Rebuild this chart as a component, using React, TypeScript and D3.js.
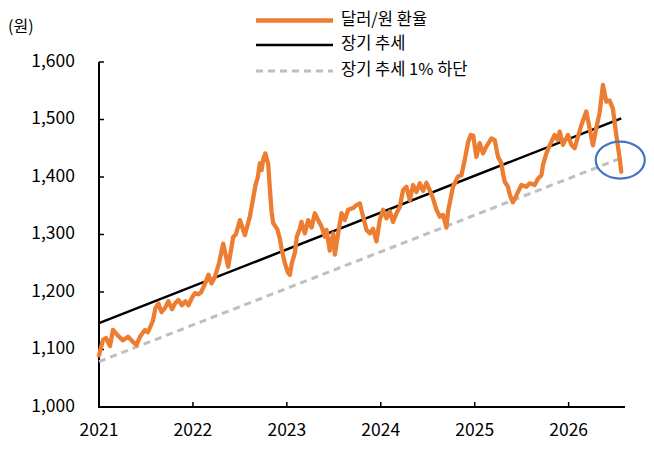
import React from "react";
import * as d3 from "d3";

// decimal-year positions and values
const fxYear = [
  2021.0, 2021.043, 2021.074, 2021.117, 2021.149, 2021.202, 2021.255, 2021.309, 2021.362, 2021.399,
  2021.436, 2021.489, 2021.521, 2021.574, 2021.601, 2021.633, 2021.665, 2021.702, 2021.739, 2021.777,
  2021.809, 2021.846, 2021.883, 2021.92, 2021.952, 2021.989, 2022.021, 2022.059, 2022.085, 2022.128,
  2022.165, 2022.197, 2022.234, 2022.277, 2022.322, 2022.376, 2022.429, 2022.457, 2022.5, 2022.553,
  2022.606, 2022.638, 2022.665, 2022.691, 2022.713, 2022.731, 2022.75, 2022.771, 2022.801, 2022.819,
  2022.837, 2022.854, 2022.899, 2022.926, 2022.944, 2022.979, 2023.011, 2023.032, 2023.053, 2023.085,
  2023.106, 2023.138, 2023.156, 2023.191, 2023.227, 2023.263, 2023.298, 2023.333, 2023.369, 2023.404,
  2023.422, 2023.457, 2023.493, 2023.511, 2023.546, 2023.582, 2023.617, 2023.652, 2023.705, 2023.741,
  2023.777, 2023.812, 2023.848, 2023.883, 2023.918, 2023.954, 2023.989, 2024.024, 2024.061, 2024.096,
  2024.131, 2024.167, 2024.202, 2024.237, 2024.273, 2024.309, 2024.344, 2024.38, 2024.415, 2024.45,
  2024.486, 2024.521, 2024.556, 2024.593, 2024.628, 2024.663, 2024.699, 2024.716, 2024.769, 2024.822,
  2024.859, 2024.894, 2024.929, 2024.957, 2024.984, 2025.018, 2025.053, 2025.088, 2025.124, 2025.178,
  2025.213, 2025.248, 2025.284, 2025.301, 2025.319, 2025.354, 2025.372, 2025.39, 2025.407, 2025.426,
  2025.461, 2025.497, 2025.55, 2025.585, 2025.638, 2025.673, 2025.71, 2025.727, 2025.763, 2025.798,
  2025.851, 2025.886, 2025.904, 2025.939, 2025.993, 2026.029, 2026.064, 2026.099, 2026.135, 2026.188,
  2026.223, 2026.259, 2026.294, 2026.33, 2026.365, 2026.401, 2026.436, 2026.471, 2026.507, 2026.543,
  2026.56,
];
const fxValue = [
  1090, 1117, 1120, 1106, 1134, 1124, 1116, 1122, 1113, 1108,
  1122, 1134, 1130, 1150, 1172, 1180, 1165, 1172, 1184, 1170,
  1180, 1186, 1177, 1184, 1177, 1190, 1198, 1196, 1199, 1214,
  1230, 1215, 1226, 1250, 1284, 1244, 1296, 1300, 1325, 1299,
  1331, 1360, 1385, 1400, 1424, 1412, 1432, 1441, 1423, 1380,
  1340, 1320, 1309, 1292, 1275, 1250, 1234, 1230, 1250, 1268,
  1296, 1310, 1322, 1302, 1325, 1312, 1337, 1325, 1314, 1296,
  1308, 1272, 1302, 1265, 1302, 1337, 1325, 1343, 1346, 1351,
  1354, 1331, 1308, 1302, 1310, 1288, 1325, 1343, 1328, 1340,
  1322, 1337, 1348, 1377, 1383, 1360, 1386, 1374, 1389, 1376,
  1390, 1377, 1363, 1343, 1331, 1334, 1312, 1340, 1383, 1401,
  1403, 1430, 1460, 1473, 1472, 1435, 1459, 1441, 1453, 1467,
  1464, 1435, 1424, 1406, 1392, 1383, 1370, 1362, 1356, 1362,
  1374, 1386, 1383, 1389, 1386, 1397, 1403, 1421, 1441, 1455,
  1473, 1464, 1479, 1456, 1473, 1456, 1450, 1470, 1490, 1514,
  1485, 1455, 1485, 1512, 1560, 1531, 1533, 1519, 1473, 1433,
  1409,
];

const trendYear = [2021.0, 2026.56];
const trendValue = [1146, 1502];
const lowerValue = [1079, 1433];

const yTicks = [1000, 1100, 1200, 1300, 1400, 1500, 1600];
const xTicks = [2021, 2022, 2023, 2024, 2025, 2026];

const legendLabels = ["달러/원 환율", "장기 추세", "장기 추세 1% 하단"];
const unitLabel = "(원)";

const FONT = "'Noto Sans CJK KR', 'Noto Sans', sans-serif";

export default function App() {
  const W = 654;
  const H = 449;
  const x = d3.scaleLinear().domain([2021, 2026.6]).range([99, 625]);
  const y = d3.scaleLinear().domain([1000, 1600]).range([407, 62]);

  const fx = fxYear.map((t, i) => [t, fxValue[i]] as [number, number]);
  const trend = trendYear.map((t, i) => [t, trendValue[i]] as [number, number]);
  const lower = trendYear.map((t, i) => [t, lowerValue[i]] as [number, number]);

  const line = d3
    .line<[number, number]>()
    .x((d) => x(d[0]))
    .y((d) => y(d[1]));

  const fmt = d3.format(",");
  const last = fx[fx.length - 1];
  const lastLower = lower[lower.length - 1];

  const legendX1 = 256;
  const legendX2 = 333;
  const legendYs = [20.5, 45, 71];
  const legendStyles = [
    { stroke: "#ED7D31", width: 4.5, dash: undefined as string | undefined },
    { stroke: "#000000", width: 2.5, dash: undefined },
    { stroke: "#BFBFBF", width: 3, dash: "7,5" },
  ];

  return (
    <svg
      width={W}
      height={H}
      style={{ position: "absolute", left: 0, top: 0, background: "#fff" }}
      fontFamily={FONT}
    >
      <rect x={0} y={0} width={W} height={H} fill="#fff" />
      <text x={8} y={28} fontSize={16} dominantBaseline="middle" fill="#000">
        {unitLabel}
      </text>

      {legendLabels.map((lab, i) => (
        <g key={lab}>
          <line
            x1={legendX1}
            x2={legendX2}
            y1={legendYs[i]}
            y2={legendYs[i]}
            stroke={legendStyles[i].stroke}
            strokeWidth={legendStyles[i].width}
            strokeDasharray={legendStyles[i].dash}
          />
          <text x={341} y={legendYs[i]} fontSize={16.5} dominantBaseline="middle" fill="#000">
            {lab}
          </text>
        </g>
      ))}

      {/* y axis */}
      {yTicks.map((v) => (
        <g key={v}>
          <line x1={x(2021)} x2={x(2021) + 5} y1={y(v)} y2={y(v)} stroke="#000" strokeWidth={1.5} />
          <text
            x={75}
            y={y(v)}
            fontSize={17.5}
            textAnchor="end"
            dominantBaseline="middle"
            fill="#000"
          >
            {fmt(v)}
          </text>
        </g>
      ))}
      <line x1={x(2021)} x2={x(2021)} y1={y(1600)} y2={y(1000)} stroke="#000" strokeWidth={2} />

      {/* x axis */}
      {xTicks.map((t) => (
        <g key={t}>
          <line x1={x(t)} x2={x(t)} y1={y(1000)} y2={y(1000) - 5} stroke="#000" strokeWidth={1.5} />
          <text x={x(t)} y={431} fontSize={17.5} textAnchor="middle" dominantBaseline="middle" fill="#000">
            {t}
          </text>
        </g>
      ))}
      <line x1={x(2021) - 1} x2={x(2026.6)} y1={y(1000)} y2={y(1000)} stroke="#000" strokeWidth={2} />

      <path d={line(lower) || ""} fill="none" stroke="#BFBFBF" strokeWidth={3} strokeDasharray="7,5" />
      <path d={line(trend) || ""} fill="none" stroke="#000" strokeWidth={2.5} />
      <path
        d={line(fx) || ""}
        fill="none"
        stroke="#ED7D31"
        strokeWidth={4.3}
        strokeLinejoin="round"
        strokeLinecap="round"
      />

      <ellipse
        cx={(x(last[0]) + x(lastLower[0])) / 2 - 1}
        cy={y(lastLower[1]) + 2}
        rx={24.5}
        ry={18.5}
        fill="none"
        stroke="#4472C4"
        strokeWidth={2.2}
      />
    </svg>
  );
}
